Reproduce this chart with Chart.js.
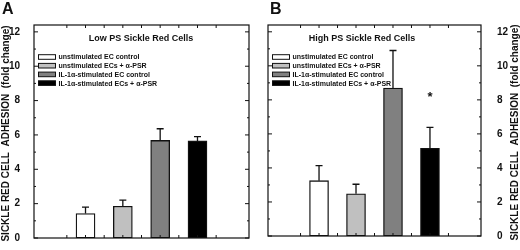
<!DOCTYPE html>
<html>
<head>
<meta charset="utf-8">
<script src="https://cdn.jsdelivr.net/npm/chart.js@4.4.1/dist/chart.umd.min.js"></script>
<style>
  html, body { margin: 0; padding: 0; background: #fff; }
  #wrap { position: relative; width: 520px; height: 250px; overflow: hidden; }
  .panel { position: absolute; top: 0; width: 260px; height: 250px; }
  #left { left: 0; }
  #right { left: 260px; }
  .letter { position: absolute; top: 0; line-height: 16px; color: #111;
            font: bold 16px "Liberation Sans", Arial, sans-serif; }
</style>
</head>
<body>
<div id="wrap">
  <div class="panel" id="left"><canvas id="lowChart"></canvas></div>
  <div class="panel" id="right"><canvas id="highChart"></canvas></div>
  <div class="letter" style="left:2px">A</div>
  <div class="letter" style="left:270px">B</div>
</div>
<script>
// data
const categories = [
  "unstimulated EC control",
  "unstimulated ECs + \u03b1-PSR",
  "IL-1\u03b1-stimulated EC control",
  "IL-1\u03b1-stimulated ECs + \u03b1-PSR"
];
const barPositions = [1, 2, 3, 4];
const lowPsMean = [1.42, 1.85, 5.68, 5.65];
const lowPsErr = [0.38, 0.36, 0.68, 0.25];
const highPsMean = [3.25, 2.48, 8.7, 5.15];
const highPsErr = [0.88, 0.56, 2.2, 1.23];
const lowPsMarks = ["", "", "", ""];
const highPsMarks = ["", "", "", "*"];
const yTicks = [0, 2, 4, 6, 8, 10, 12];
const barColors = ["#ffffff", "#c0c0c0", "#808080", "#000000"];
const yTitle = "SICKLE RED CELL  ADHESION  (fold change)";

const FONT = '"Liberation Sans", Arial, sans-serif';
const INK = "#111";

// frame, inward ticks, error bars, in-plot title + legend, y title
const panelDecor = {
  id: "panelDecor",
  afterDraw(chart, args, opts) {
    const { ctx, chartArea: a, scales: { x, y } } = chart;
    ctx.save();
    ctx.strokeStyle = INK;
    ctx.fillStyle = INK;

    // error bars (upper half only)
    ctx.lineWidth = 1.3;
    const pts = chart.data.datasets[0].data;
    chart.getDatasetMeta(0).data.forEach((bar, i) => {
      const top = y.getPixelForValue(pts[i].y + opts.errors[i]);
      ctx.beginPath();
      ctx.moveTo(bar.x, bar.y);
      ctx.lineTo(bar.x, top);
      ctx.moveTo(bar.x - 3.5, top);
      ctx.lineTo(bar.x + 3.5, top);
      ctx.stroke();
      if (opts.marks[i]) {
        ctx.font = "bold 13px " + FONT;
        ctx.textAlign = "center";
        ctx.textBaseline = "middle";
        ctx.fillText(opts.marks[i], bar.x, top - 30);
      }
    });

    // frame
    ctx.lineWidth = 1.2;
    ctx.strokeRect(a.left, a.top, a.right - a.left, a.bottom - a.top);

    // inward ticks
    ctx.lineWidth = 1;
    ctx.beginPath();
    for (let v = 0; v <= 12; v++) {
      const py = y.getPixelForValue(v);
      const len = v % 2 === 0 ? 4 : 2;
      ctx.moveTo(a.left, py); ctx.lineTo(a.left + len, py);
      ctx.moveTo(a.right, py); ctx.lineTo(a.right - len, py);
    }
    for (let k = 0.5; k <= 4.5; k += 0.5) {
      const px = x.getPixelForValue(k);
      ctx.moveTo(px, a.bottom); ctx.lineTo(px, a.bottom - 3);
      ctx.moveTo(px, a.top); ctx.lineTo(px, a.top + 3);
    }
    ctx.stroke();

    // title inside plot
    ctx.font = "bold 9px " + FONT;
    ctx.textAlign = "center";
    ctx.textBaseline = "middle";
    ctx.fillText(opts.title, a.left + opts.titleOffset, a.top + 14);

    // legend inside plot
    ctx.font = "bold 7px " + FONT;
    ctx.textAlign = "left";
    categories.forEach((c, i) => {
      const ry = a.top + 32 + i * 8.7;
      const bx = a.left + 4.5;
      ctx.fillStyle = barColors[i];
      ctx.fillRect(bx, ry - 2.3, 17, 4.6);
      ctx.lineWidth = 1;
      ctx.strokeRect(bx, ry - 2.3, 17, 4.6);
      ctx.fillStyle = INK;
      ctx.fillText(c, bx + 20, ry + 0.5);
    });

    // rotated y title
    ctx.font = "bold 10px " + FONT;
    ctx.textAlign = "center";
    ctx.textBaseline = "middle";
    ctx.translate(opts.yTitleX, (a.top + a.bottom) / 2 + 2);
    ctx.rotate(-Math.PI / 2);
    ctx.fillText(yTitle, 0, 0);
    ctx.restore();
  }
};

function makePanel(id, means, errs, marks, cfg) {
  new Chart(document.getElementById(id), {
    type: "bar",
    data: {
      datasets: [{
        data: barPositions.map((p, i) => ({ x: p, y: means[i] })),
        backgroundColor: barColors,
        borderColor: INK,
        borderWidth: 1.3,
        borderSkipped: false,
        barThickness: 19
      }]
    },
    options: {
      responsive: true,
      maintainAspectRatio: false,
      animation: false,
      layout: { padding: cfg.padding },
      plugins: {
        legend: { display: false },
        tooltip: { enabled: false },
        panelDecor: { errors: errs, marks: marks, title: cfg.title,
                      titleOffset: cfg.titleOffset, yTitleX: cfg.yTitleX }
      },
      scales: {
        x: { type: "linear", min: 0.1, max: 4.9, display: false },
        y: {
          position: cfg.yPos,
          min: 0, max: 12.4,
          afterBuildTicks: s => { s.ticks = yTicks.map(v => ({ value: v })); },
          afterFit: s => { s.width = cfg.yWidth; },
          grid: { display: false },
          border: { display: false },
          ticks: { padding: cfg.tickPad, color: INK, font: { family: FONT, size: 10, weight: "bold" } }
        }
      }
    },
    plugins: [panelDecor]
  });
}

makePanel("lowChart", lowPsMean, lowPsErr, lowPsMarks, {
  title: "Low PS Sickle Red Cells", titleOffset: 107, yTitleX: 6,
  yPos: "left", yWidth: 34, tickPad: 6,
  padding: { top: 25, bottom: 5, left: 0, right: 11 }
});
makePanel("highChart", highPsMean, highPsErr, highPsMarks, {
  title: "High PS Sickle Red Cells", titleOffset: 94, yTitleX: 255,
  yPos: "right", yWidth: 39, tickPad: 8,
  padding: { top: 25, bottom: 5, left: 8, right: 0 }
});
</script>
</body>
</html>
